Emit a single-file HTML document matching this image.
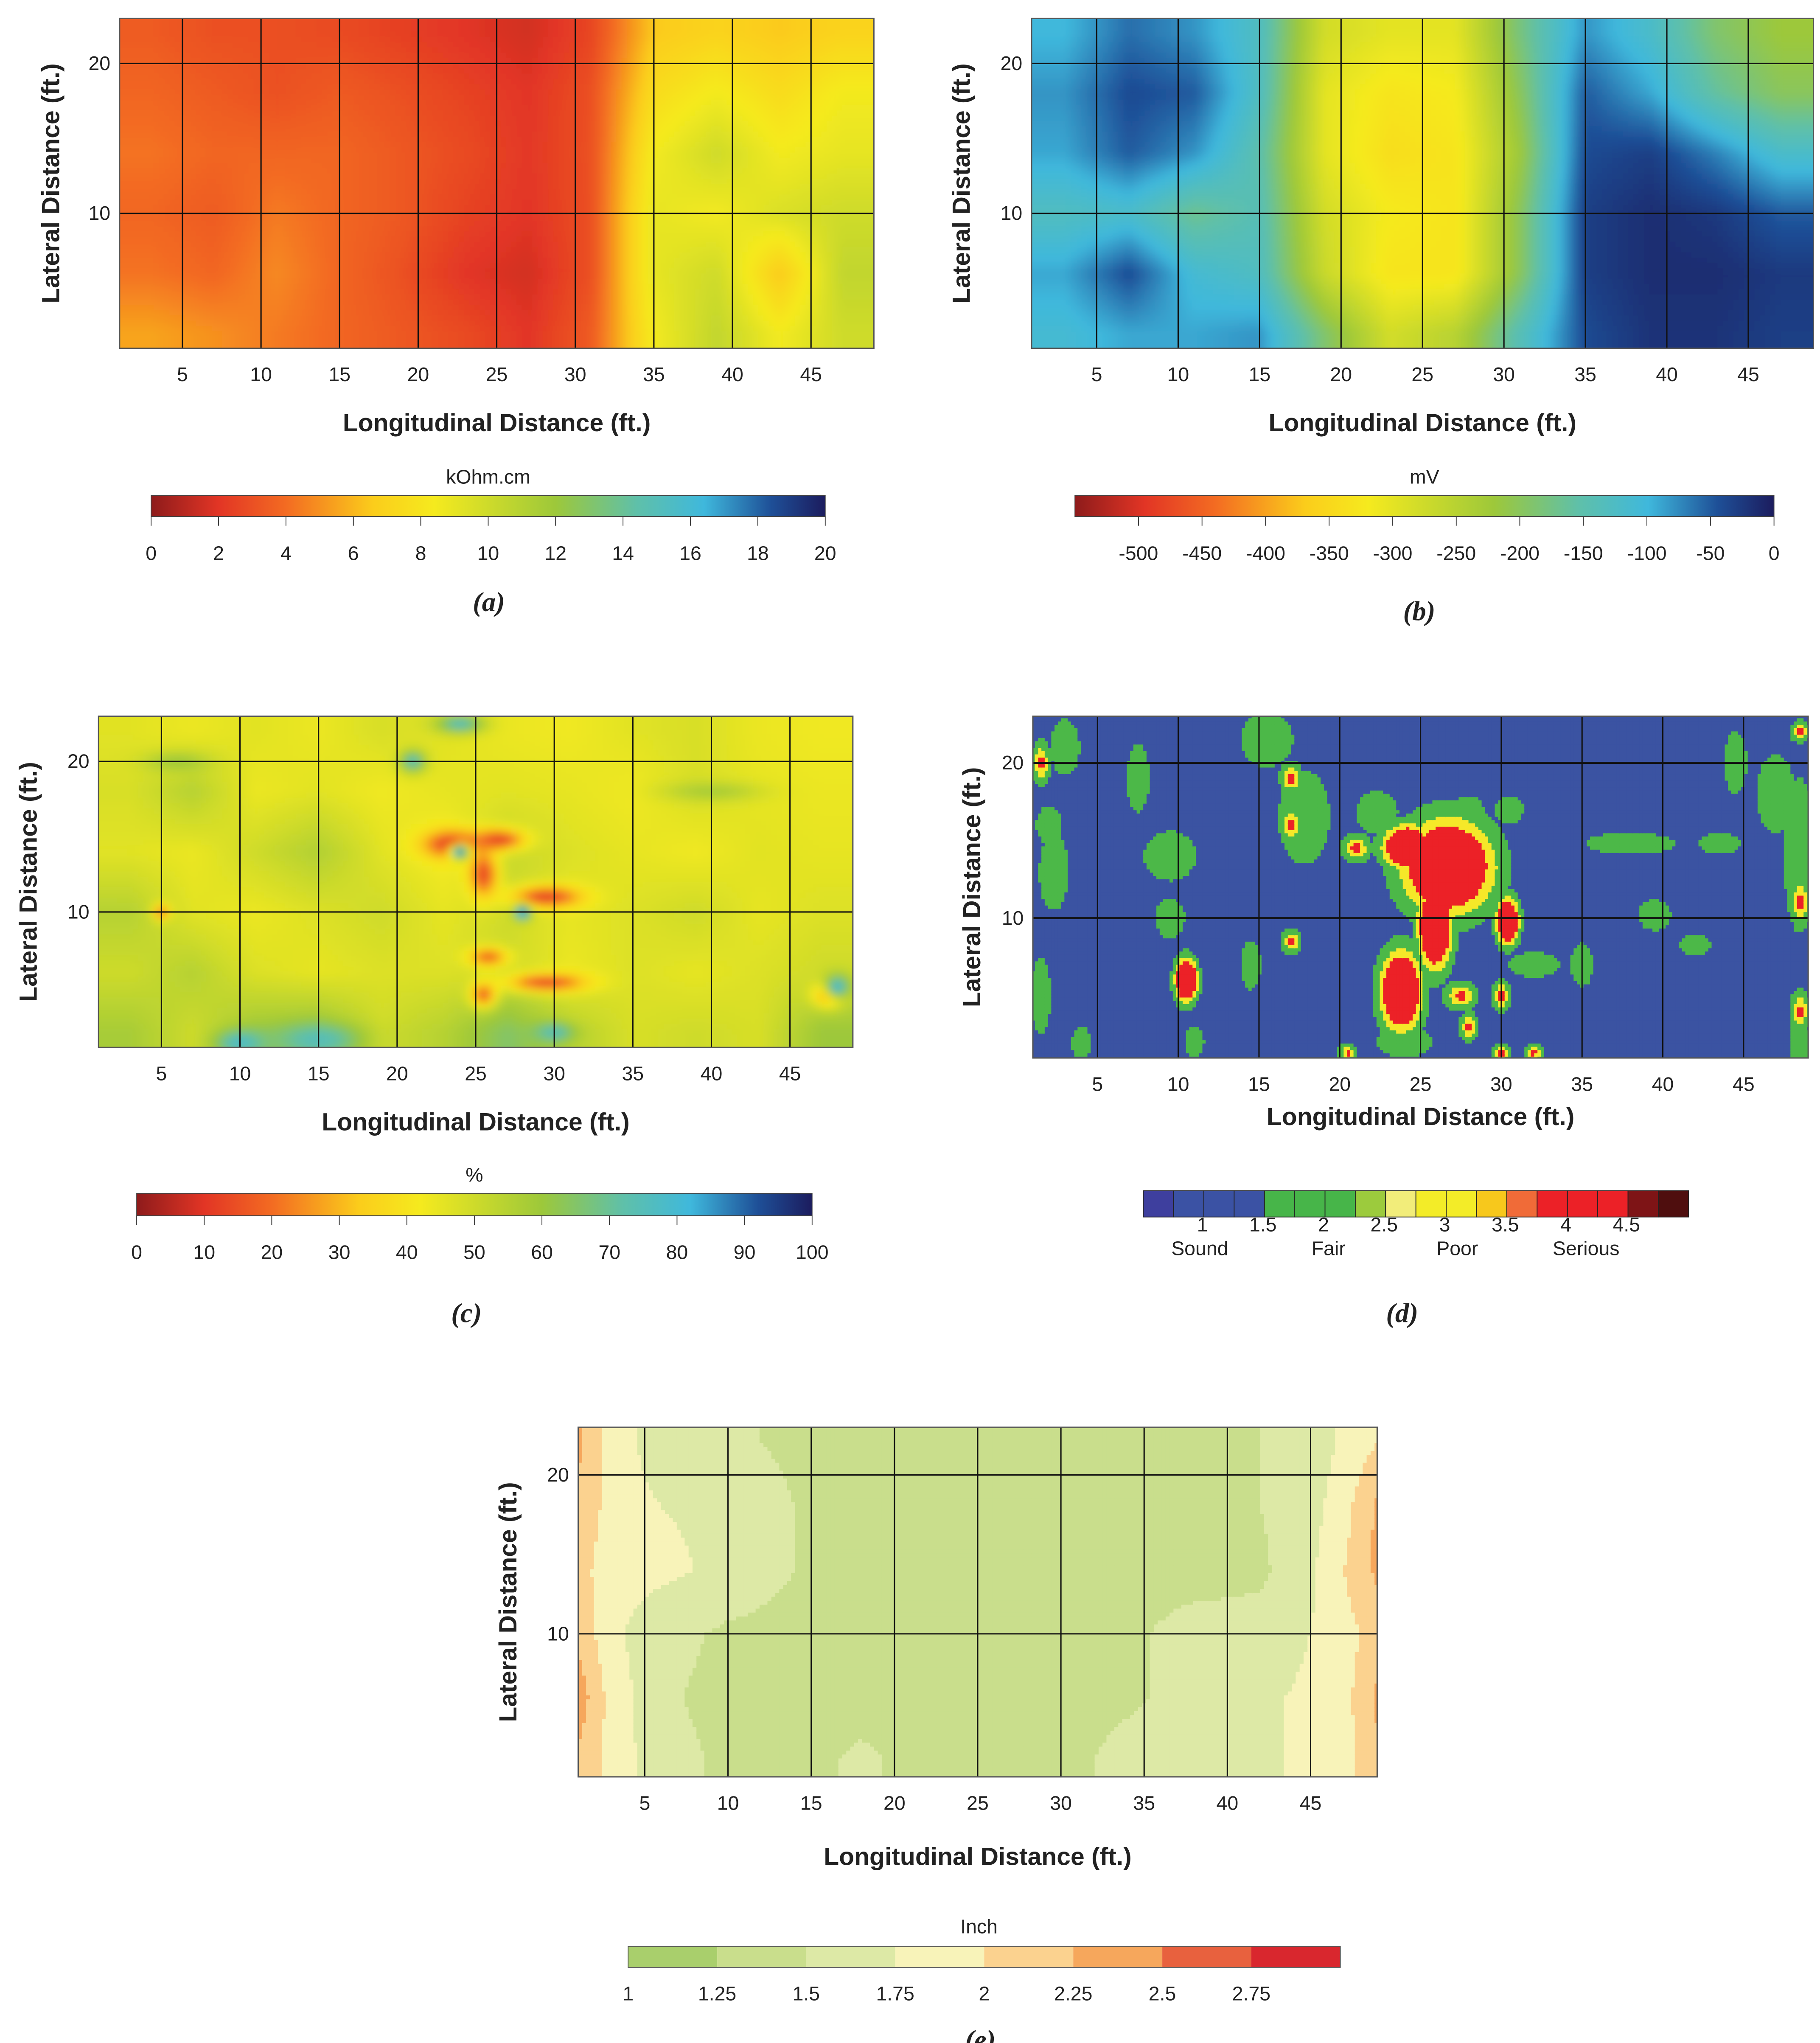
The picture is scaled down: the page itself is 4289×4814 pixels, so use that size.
<!DOCTYPE html>
<html><head><meta charset="utf-8"><style>
html,body{margin:0;padding:0;background:#fff}
svg{display:block}
text{font-family:"Liberation Sans",sans-serif;fill:#222}
.t{font-size:15px}
.at{font-size:19px;font-weight:bold}
.pl{font-family:"Liberation Serif",serif;font-style:italic;font-weight:bold;font-size:21px}
</style></head><body>
<svg id="root" width="4289" height="4814" viewBox="0 0 1385 1554.5" xmlns="http://www.w3.org/2000/svg">
<defs>
<filter id="bl" x="-2%" y="-2%" width="104%" height="104%"><feGaussianBlur stdDeviation="3"/></filter>
<clipPath id="ca"><rect x="91" y="14" width="574" height="251"/></clipPath>
<clipPath id="cb"><rect x="785" y="14" width="595" height="251"/></clipPath>
<clipPath id="cc"><rect x="75" y="545" width="574" height="252"/></clipPath>
<clipPath id="cd"><rect x="786" y="545" width="590" height="260"/></clipPath>
<clipPath id="ce"><rect x="440" y="1086" width="608" height="266"/></clipPath>
</defs>
</svg>
<script>
// ---------- DATA ----------
const gridX=[3,7,11,15,19,23,27,31,35,39,43,47];
const gridY=[22,18,14,10,6,2];
const thickX=[1,3,6,10,14,18,22,26,30,34,38,42,45,47,49];
const xTicks=[5,10,15,20,25,30,35,40,45];
const yTicks=[10,20];
const resistivity=[
[3.4,3,3,2.8,2.4,2,1.6,2.6,6.5,7,6.5,7],
[3.8,3.4,3,3.4,3,2.5,2,3,7.5,8.5,7.5,8.5],
[4.2,3.8,3.8,3.8,3.3,2.8,2.1,3,8.5,10,8.5,9],
[3.8,3.4,4.4,3.8,3.3,2.5,2,3,9,8.5,9.5,10],
[4.2,3.8,4.8,3.8,3,2,1.6,3,9,10,6.5,10.5],
[5.5,5,4.4,3.8,3.3,2.8,2,3.4,8.5,10.5,8.5,10]];
const potential=[
[-100,-60,-80,-130,-280,-300,-300,-180,-80,-120,-190,-220],
[-80,-40,-50,-130,-300,-330,-320,-200,-50,-90,-160,-200],
[-90,-50,-80,-150,-300,-340,-330,-220,-40,-30,-70,-120],
[-130,-120,-170,-140,-280,-320,-330,-200,-30,-15,-25,-50],
[-90,-40,-110,-130,-270,-330,-330,-200,-30,-15,-15,-25],
[-110,-90,-90,-80,-190,-280,-250,-140,-40,-20,-20,-30]];
const moisture=[
[46,44,46,44,48,46,44,43,46,48,44,43],
[48,55,44,46,43,45,46,45,43,48,45,44],
[46,44,50,56,46,42,52,47,45,43,46,45],
[55,46,44,47,50,45,50,45,47,50,45,47],
[50,55,47,45,47,47,50,44,47,45,47,50],
[58,50,60,62,50,55,65,55,48,50,48,60]];
// moisture local spots: [x, y, radiusX, radiusY, value]
const moistureSpots=[[23.5,14.5,1.8,0.9,10],[26.5,14.8,1.6,0.7,12],[25.5,12.5,0.9,1.5,14],[29.5,11,2.2,0.7,12],[25.8,7,1.2,0.6,18],[29.5,5.3,2.5,0.6,14],[25.5,4.5,0.8,0.8,18],[24,14,0.6,0.5,88],[28,10,0.5,0.5,88],[5,10,0.5,0.5,20],[15,1.5,2.5,1,75],[10,1.3,1.5,0.8,78],[47.5,4.5,1,0.8,20],[48,5,0.8,0.8,80],[21,20,0.8,0.7,75],[30,2,1.2,0.6,75],[24,22.5,1.5,0.6,75],[6,20,2,0.6,60],[40,18,3,0.6,58]];
// corrosion condition blobs: [x, y, rx, ry, level]
const conditionBlobs=[[26.7,13.3,2.4,2.6,4],[24.2,14.6,1.3,1.2,4],[25.9,9.5,0.9,2.4,4],[23.8,5.3,1.1,2.2,4],[30.4,9.8,0.6,1.3,4],
[21,14.5,0.8,0.8,3.6],[17,16,0.6,0.9,3.6],[17,19,0.6,0.9,3.6],[27.5,5,0.9,0.8,3.6],[30,5,0.5,0.9,3.6],[28,3,0.5,0.8,3.6],[10.5,6,0.6,1.2,3.8],[17,8.5,0.5,0.7,3.6],[48.5,11,0.5,1.5,3.6],[48.5,4,0.5,1.2,3.6],[1.5,20,0.5,1.2,3.6],[48.5,22,0.5,0.6,3.6],[20.5,1.3,0.5,0.5,3.6],[30,1.3,0.5,0.5,3.6],[32,1.3,0.5,0.5,3.6],
[15.5,21.5,1.6,1.8,2],[17.8,16.5,1.6,3,2],[2.3,13,0.9,2.5,2],[47,18,1.2,2.5,2],[48.5,14,1,5,2],[38,14.8,2.8,0.7,2],[43.5,14.8,1.3,0.7,2],[42,8.3,1,0.7,2],[32,7,1.6,0.8,2],[35,7,0.7,1.4,2],[22.3,16.8,1.3,1.4,2],[28,17,0.9,0.9,2],[30.5,17,0.9,0.9,2],[9.5,14,1.6,1.6,2],[7.5,19,0.7,2.2,2],[3,21,0.9,1.8,2],[9.5,10,0.9,1.3,2],[14.5,7,0.6,1.6,2],[24,2,1.7,1,2],[48.5,1.5,0.6,2.5,2],[1.5,5,0.6,2.5,2],[2,16,0.8,1.2,2],[44.5,20,0.7,2,2],[11,2,0.6,1,2],[4,2,0.6,1,2],[39.5,10.2,1,1,2]];
const thickness=[
[2.3,1.9,1.6,1.55,1.45,1.4,1.4,1.4,1.4,1.4,1.45,1.5,1.6,1.8,2.0],
[2.2,1.9,1.75,1.7,1.5,1.4,1.4,1.4,1.4,1.4,1.4,1.5,1.65,1.9,2.3],
[2.1,1.85,1.8,1.7,1.5,1.4,1.4,1.4,1.4,1.4,1.4,1.45,1.7,2.0,2.3],
[2.2,1.8,1.6,1.45,1.4,1.4,1.4,1.4,1.4,1.45,1.6,1.6,1.75,1.9,2.1],
[2.4,1.9,1.55,1.4,1.4,1.4,1.4,1.4,1.4,1.45,1.6,1.7,1.8,1.9,2.3],
[2.2,1.9,1.6,1.45,1.4,1.55,1.4,1.4,1.4,1.6,1.65,1.7,1.8,1.9,2.2]];
const resTicks=[0,2,4,6,8,10,12,14,16,18,20];
const potTicks=[-500,-450,-400,-350,-300,-250,-200,-150,-100,-50,0];
const moistTicks=[0,10,20,30,40,50,60,70,80,90,100];
const condTicks=[1,1.5,2,2.5,3,3.5,4,4.5];
const condLabels=["Sound","Fair","Poor","Serious"];
const thickTicks=[1,1.25,1.5,1.75,2,2.25,2.5,2.75];

// ---------- HELPERS ----------
const NS="http://www.w3.org/2000/svg";
const root=document.getElementById('root');
function mk(tag,attrs,parent,txt){const e=document.createElementNS(NS,tag);for(const k in attrs)e.setAttribute(k,attrs[k]);if(txt!==undefined)e.textContent=txt;(parent||root).appendChild(e);return e;}
const jet=[[0,[142,27,27]],[0.1,[226,53,37]],[0.2,[243,107,34]],[0.33,[251,205,27]],[0.42,[245,234,30]],[0.6,[157,200,58]],[0.72,[95,192,169]],[0.82,[63,184,220]],[0.92,[30,79,151]],[1,[28,28,94]]];
function jetColor(t){t=Math.max(0,Math.min(1,t));for(let i=1;i<jet.length;i++){if(t<=jet[i][0]){const a=jet[i-1],b=jet[i];const f=(t-a[0])/(b[0]-a[0]);const c=a[1].map((v,k)=>Math.round(v+(b[1][k]-v)*f));return `rgb(${c})`;}}return 'rgb(28,28,94)';}
function locate(arr,v){let i=0;while(i<arr.length-2&&v>arr[i+1])i++;let f=(v-arr[i])/(arr[i+1]-arr[i]);f=Math.max(0,Math.min(1,f));return [i,f];}
function bilinear(grid,x,y,gx){
  gx=gx||gridX;
  const [i,fx]=locate(gx,x);
  const ny=gridY.map(v=>-v);const [j,fy]=locate(ny,-y);
  return grid[j][i]*(1-fx)*(1-fy)+grid[j][i+1]*fx*(1-fy)+grid[j+1][i]*(1-fx)*fy+grid[j+1][i+1]*fx*fy;}
function panel(p){
  const xs=v=>p.x0+(v-1)/48*(p.x1-p.x0);
  const ys=v=>p.y1-(v-1)/22*(p.y1-p.y0);
  const g=mk('g',{'clip-path':`url(#${p.clip})`});
  
  
  const inner=mk('g',p.blur?{filter:'url(#bl)'}:{},g);
  const s=p.cell;
  for(let px=p.x0-6;px<p.x1+6;px+=s){for(let py=p.y0-6;py<p.y1+6;py+=s){
    const fx=1+(px+s/2-p.x0)/(p.x1-p.x0)*48, fy=1+(p.y1-(py+s/2))/(p.y1-p.y0)*22;
    mk('rect',{x:px,y:py,width:s+0.6,height:s+0.6,fill:p.color(p.field(fx,fy))},inner);
  }}
  xTicks.forEach(t=>{const l=mk('line',{x1:xs(t),x2:xs(t),y1:p.y0,y2:p.y1,stroke:'#111','stroke-width':1});});
  yTicks.forEach(t=>{const l=mk('line',{x1:p.x0,x2:p.x1,y1:ys(t),y2:ys(t),stroke:'#111','stroke-width':p.hw||1});});
  const fr=mk('rect',{x:p.x0,y:p.y0,width:p.x1-p.x0,height:p.y1-p.y0,fill:'none',stroke:'#555','stroke-width':1});
  
  xTicks.forEach(t=>{const e=mk('text',{x:xs(t),y:p.y1+25,'text-anchor':'middle',class:'t'},root,String(t));});
  yTicks.forEach(t=>{const e=mk('text',{x:p.x0-7,y:ys(t)+5,'text-anchor':'end',class:'t','font-size':p.ytf||15},root,String(t));});
  const xt=mk('text',{x:(p.x0+p.x1)/2,y:p.xtY,'text-anchor':'middle',class:'at'},root,'Longitudinal Distance (ft.)');
  
  const yc=(p.y0+p.y1)/2;
  const yt=mk('text',{x:p.ytX,y:yc,'text-anchor':'middle',class:'at',transform:`rotate(-90 ${p.ytX} ${yc})`},root,'Lateral Distance (ft.)');
  
  const lb=mk('text',{x:p.lx,y:p.ly,'text-anchor':'middle',class:'pl'},root,p.letter);
  
}
function gradBar(id,x0,x1,y,h,vmin,vmax,ticks,unit,unitY,labY,name){
  const lg=mk('linearGradient',{id:id},root.querySelector('defs'));
  jet.forEach(s=>mk('stop',{offset:s[0],'stop-color':`rgb(${s[1]})`},lg));
  const r=mk('rect',{x:x0,y:y,width:x1-x0,height:h,fill:`url(#${id})`,stroke:'#444','stroke-width':0.6});
  
  const sc=v=>x0+(v-vmin)/(vmax-vmin)*(x1-x0);
  ticks.forEach(t=>{mk('line',{x1:sc(t),x2:sc(t),y1:y+h,y2:y+h+7,stroke:'#333','stroke-width':0.6});
    const e=mk('text',{x:sc(t),y:labY,'text-anchor':'middle',class:'t','font-size':16},root,String(t));});
  const u=mk('text',{x:(x0+x1)/2,y:unitY,'text-anchor':'middle',class:'t','font-size':16},root,unit);
  
}

// ---------- PANEL A ----------
panel({name:'resistivity',clip:'ca',x0:91,x1:665,y0:14,y1:265,cell:4,blur:true,
 field:(x,y)=>bilinear(resistivity,x,y),color:v=>jetColor(v/20),xtY:328,ytX:45,lx:372,ly:465,letter:'(a)'});
gradBar('ga',115,628,377,16,0,20,resTicks,'kOhm.cm',368,426,'resistivity');

// ---------- PANEL B ----------
panel({name:'potential',clip:'cb',x0:785,x1:1380,y0:14,y1:265,cell:4,blur:true,
 field:(x,y)=>bilinear(potential,x,y),color:v=>jetColor((v+550)/550),xtY:328,ytX:738,lx:1080,ly:472,letter:'(b)'});
gradBar('gb',818,1350,377,16,-550,0,potTicks,'mV',368,426,'potential');

// ---------- PANEL C ----------
function moistField(x,y){let v=bilinear(moisture,x,y);moistureSpots.forEach(s=>{const d2=((x-s[0])/s[2])**2+((y-s[1])/s[3])**2;const w=Math.exp(-d2);v=v*(1-w)+s[4]*w;});return v;}
panel({name:'moisture',clip:'cc',x0:75,x1:649,y0:545,y1:797,cell:4,blur:true,
 field:moistField,color:v=>jetColor(v/100),xtY:860,ytX:28,lx:355,ly:1006,letter:'(c)'});
gradBar('gc',104,618,908,17,0,100,moistTicks,'%',899,958,'moisture');

// ---------- PANEL D ----------
function condField(x,y){let v=1;conditionBlobs.forEach(b=>{const d=Math.sqrt(((x-b[0])/b[2])**2+((y-b[1])/b[3])**2);let c=1;
  if(b[4]>=3.75){c=d<1?4:d<1.25?3.5:d<1.65?2:1;}
  else if(b[4]>=3){c=d<0.35?4:d<0.75?3.5:d<1.3?2:1;}
  else{c=d<1?2:1;}
  v=Math.max(v,c);});return v;}
function condColor(v){if(v>=3.75)return '#ec2127';if(v>=3.3)return '#f5e829';if(v>=1.5)return '#4cb848';return '#3b53a2';}
panel({name:'condition',clip:'cd',x0:786,x1:1376,y0:545,y1:805,cell:2.5,blur:false,hw:1.6,ytf:14,
 field:condField,color:condColor,xtY:856,ytX:746,lx:1067,ly:1006,letter:'(d)'});
const condSeg=['#3e3f9e','#3b52a4','#3b52a4','#3b52a4','#47b549','#47b549','#47b549','#9ccb3d','#f2ed7a','#f3ec28','#f3ec28','#f7c81c','#f06b38','#ec2127','#ec2127','#ec2127','#7e1416','#4f0e0e'];
(function(){const x0=870,x1=1285,w=(x1-x0)/condSeg.length;
 condSeg.forEach((c,i)=>{const r=mk('rect',{x:x0+i*w,y:906,width:w,height:20,fill:c,stroke:'#222','stroke-width':0.6});});
 condTicks.forEach(t=>{const e=mk('text',{x:915+(t-1)*92.2,y:937,'text-anchor':'middle',class:'t','font-size':11,fill:'#555'},root,String(t));});
 condLabels.forEach((l,i)=>{const e=mk('text',{x:913+i*98,y:955,'text-anchor':'middle',class:'t','font-size':14,fill:'#555'},root,l);});
})();

// ---------- PANEL E ----------
const thickColors=['#a9cf6c','#c9de8c','#dde9a6','#f8f3b9','#fbd28f','#f6a75c','#e8613e','#d9272e'];
function thickColor(v){let i=Math.floor((v-1)/0.25);i=Math.max(0,Math.min(7,i));return thickColors[i];}
panel({name:'thickness',clip:'ce',x0:440,x1:1048,y0:1086,y1:1352,cell:3,blur:false,ytf:13,
 field:(x,y)=>bilinear(thickness,x,y,thickX),color:thickColor,xtY:1419,ytX:393,lx:746,ly:1559,letter:'(e)'});
(function(){const x0=478,x1=1020,w=(x1-x0)/8;
 thickColors.forEach((c,i)=>{const r=mk('rect',{x:x0+i*w,y:1481,width:w,height:16,fill:c});});
 mk('rect',{x:x0,y:1481,width:x1-x0,height:16,fill:'none',stroke:'#555','stroke-width':0.6});
 thickTicks.forEach((t,i)=>{const e=mk('text',{x:x0+i*w,y:1522,'text-anchor':'middle',class:'t','font-size':16},root,String(t));});
 const u=mk('text',{x:745,y:1471,'text-anchor':'middle',class:'t','font-size':16},root,'Inch');
})();
</script>
</body></html>
